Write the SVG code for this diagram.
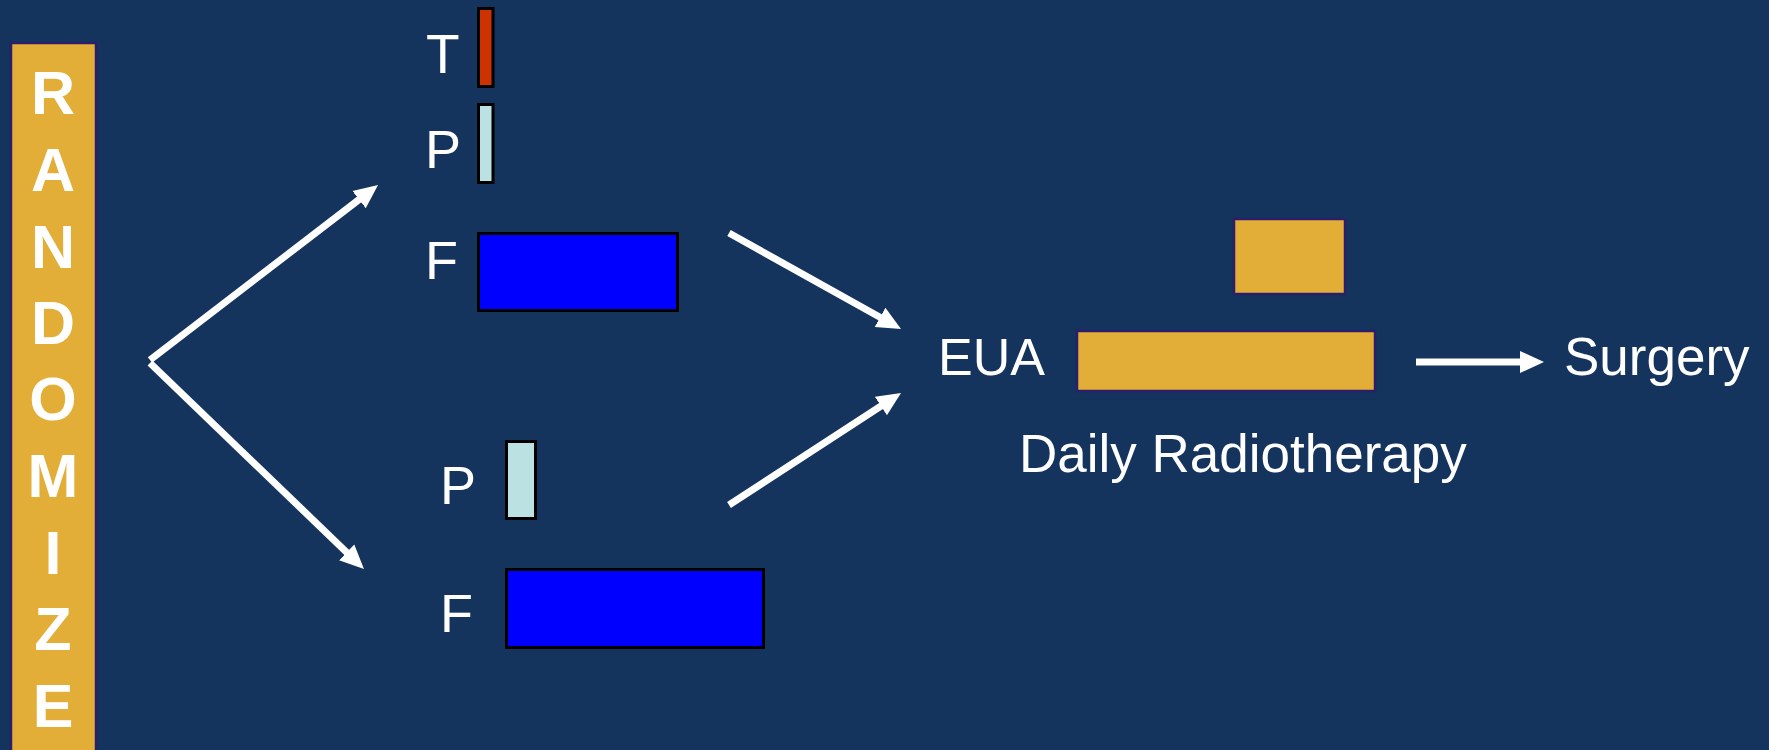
<svg xmlns="http://www.w3.org/2000/svg" width="1769" height="750" viewBox="0 0 1769 750">
  <defs>
    <style>
      .lbl { font-family: "Liberation Sans", Arial, sans-serif; fill: #ffffff; }
      .rnd { font-family: "Liberation Sans", Arial, sans-serif; font-weight: bold; fill: #ffffff; font-size: 61px; text-anchor: middle; }
      .bar { stroke: #000000; stroke-width: 3; }
      .gold { fill: #E2AE38; stroke: #2B1F6B; stroke-width: 2.5; }
      .conn { stroke: #ffffff; stroke-width: 7; fill: none; }
    </style>
    <marker id="ah" markerUnits="userSpaceOnUse" markerWidth="26" markerHeight="24" viewBox="0 -12 26 24" refX="2" refY="0" orient="auto">
      <path d="M0,-11 L24,0 L0,11 z" fill="#ffffff"/>
    </marker>
  </defs>
  <rect x="0" y="0" width="1769" height="750" fill="#14335D"/>

  <g id="randomize">
    <rect class="gold" x="11" y="43" width="85" height="720"/>
    <text class="rnd" x="53" y="114">R</text>
    <text class="rnd" x="53" y="191">A</text>
    <text class="rnd" x="53" y="268">N</text>
    <text class="rnd" x="53" y="344">D</text>
    <text class="rnd" x="53" y="420">O</text>
    <text class="rnd" x="53" y="497">M</text>
    <text class="rnd" x="53" y="574">I</text>
    <text class="rnd" x="53" y="650">Z</text>
    <text class="rnd" x="53" y="727">E</text>
  </g>

  <g id="arm1-T">
    <text class="lbl" x="426" y="73" font-size="55">T</text>
    <rect class="bar" x="478.5" y="8.5" width="14.5" height="78" fill="#CC3300"/>
  </g>
  <g id="arm1-P">
    <text class="lbl" x="425" y="168" font-size="54">P</text>
    <rect class="bar" x="478.5" y="104.5" width="14.5" height="78" fill="#BCE1E3"/>
  </g>
  <g id="arm1-F">
    <text class="lbl" x="425" y="279" font-size="54">F</text>
    <rect class="bar" x="478.5" y="233.5" width="199" height="77" fill="#0000FF"/>
  </g>

  <g id="arm2-P">
    <text class="lbl" x="440" y="504" font-size="54">P</text>
    <rect class="bar" x="506.5" y="441.5" width="29" height="77" fill="#BCE1E3"/>
  </g>
  <g id="arm2-F">
    <text class="lbl" x="440" y="632" font-size="54">F</text>
    <rect class="bar" x="506.5" y="569.5" width="257" height="78" fill="#0000FF"/>
  </g>

  <g id="eua">
    <text class="lbl" x="938" y="375" font-size="52">EUA</text>
  </g>
  <g id="boost">
    <rect class="gold" x="1234" y="219" width="111" height="75"/>
  </g>
  <g id="radiotherapy">
    <rect class="gold" x="1077" y="331" width="298" height="60"/>
    <text class="lbl" x="1019" y="472" font-size="53">Daily Radiotherapy</text>
  </g>
  <g id="surgery">
    <text class="lbl" x="1564" y="375" font-size="53">Surgery</text>
  </g>

  <g id="connectors">
    <line class="conn" x1="150" y1="360" x2="360.6" y2="198.4" marker-end="url(#ah)"/>
    <line class="conn" x1="150" y1="363" x2="348.1" y2="553.7" marker-end="url(#ah)"/>
    <line class="conn" x1="729" y1="233" x2="881.8" y2="318.3" marker-end="url(#ah)"/>
    <line class="conn" x1="729" y1="505" x2="882.6" y2="405" marker-end="url(#ah)"/>
    <line class="conn" x1="1416" y1="362" x2="1522" y2="362" stroke-width="8" marker-end="url(#ah)"/>
  </g>
</svg>
